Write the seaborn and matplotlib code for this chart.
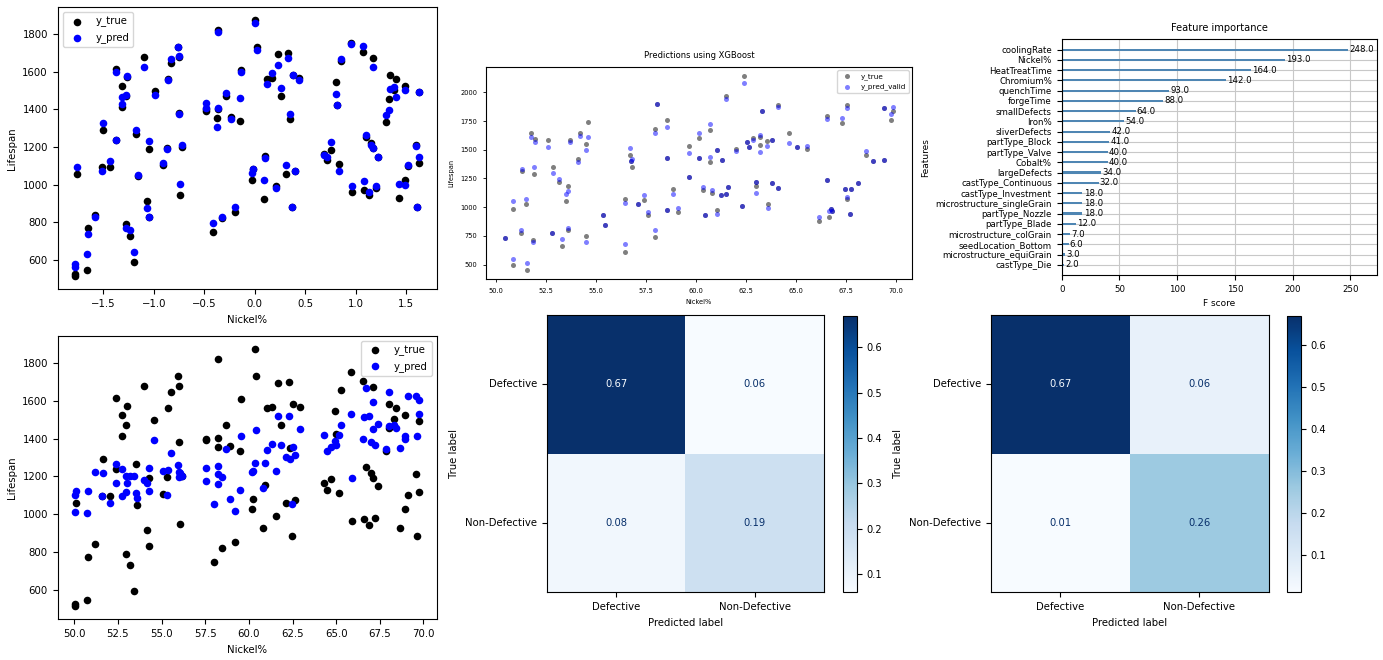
import numpy as np
import pandas as pd
import matplotlib
matplotlib.use("Agg")
import matplotlib.pyplot as plt
import seaborn as sns

# ---- data ----
# shared test set: raw Nickel%, standardised Nickel%, true lifespan
nickel = [50.04, 50.04, 50.11, 50.73, 50.76, 51.20, 51.58, 51.64, 52.06, 52.40,
          52.40, 52.75, 52.75, 52.98, 53.03, 52.98, 53.21, 53.40, 53.51, 53.59,
          53.97, 54.16, 54.27, 54.27, 54.58, 55.08, 55.31, 55.36, 55.53, 55.94,
          56.01, 56.01, 56.07, 56.16, 57.54, 57.56, 57.98, 58.24, 58.24, 58.21,
          58.45, 58.70, 58.93, 59.18, 59.47, 59.54, 60.17, 60.23, 60.34, 60.42,
          60.82, 60.90, 61.03, 61.32, 61.56, 61.68, 61.83, 62.10, 62.27, 62.37,
          62.46, 62.52, 62.65, 62.90, 64.31, 64.45, 64.68, 64.94, 65.00, 65.15,
          65.25, 65.84, 65.88, 66.55, 66.60, 66.68, 66.87, 66.98, 67.10, 67.10,
          67.25, 67.37, 67.84, 68.05, 68.03, 68.32, 68.42, 68.63, 68.93, 68.95,
          69.12, 69.58, 69.62, 69.75, 69.77]
nickel_scaled = [-1.78, -1.78, -1.76, -1.66, -1.65, -1.58, -1.51, -1.50, -1.43, -1.37,
                 -1.37, -1.31, -1.31, -1.27, -1.26, -1.27, -1.23, -1.20, -1.18, -1.16,
                 -1.10, -1.07, -1.05, -1.05, -0.99, -0.91, -0.87, -0.86, -0.83, -0.76,
                 -0.75, -0.75, -0.74, -0.72, -0.48, -0.48, -0.41, -0.36, -0.36, -0.37,
                 -0.32, -0.28, -0.24, -0.20, -0.15, -0.14, -0.03, -0.02, 0.00, 0.02,
                 0.09, 0.10, 0.12, 0.17, 0.21, 0.23, 0.26, 0.31, 0.33, 0.35,
                 0.37, 0.38, 0.40, 0.44, 0.69, 0.71, 0.75, 0.80, 0.81, 0.83,
                 0.85, 0.95, 0.96, 1.07, 1.08, 1.10, 1.13, 1.15, 1.17, 1.17,
                 1.20, 1.22, 1.30, 1.34, 1.33, 1.38, 1.40, 1.43, 1.49, 1.49,
                 1.52, 1.60, 1.61, 1.63, 1.63]
y_true = [526, 512, 1057, 545, 772, 841, 1096, 1292, 1096, 1612,
          1237, 1524, 1414, 1473, 1572, 789, 729, 591, 1267, 1048,
          1676, 915, 830, 1190, 1499, 1104, 1195, 1559, 1648, 1733,
          1680, 1382, 947, 1202, 1391, 1400, 749, 1823, 1404, 1354,
          821, 1469, 1361, 855, 1336, 1607, 1027, 1081, 1874, 1733,
          926, 1154, 1561, 1566, 991, 1692, 1469, 1057, 1697, 1350,
          883, 1580, 1073, 1568, 1163, 1129, 1186, 1543, 1423, 1110,
          1657, 1750, 963, 1706, 972, 1251, 943, 1220, 1193, 1673,
          982, 1149, 1335, 1581, 1455, 1503, 1563, 929, 1025, 1524,
          1101, 1211, 882, 1494, 1117]
# predictions of the model on scaled inputs (top left)
y_pred_scaled = [577, 560, 1096, 634, 740, 827, 1073, 1327, 1128, 1596,
                 1238, 1465, 1430, 1474, 1575, 772, 759, 640, 1291, 1052,
                 1624, 878, 828, 1231, 1476, 1114, 1188, 1557, 1667, 1731,
                 1681, 1376, 1004, 1209, 1433, 1406, 795, 1809, 1405, 1305,
                 827, 1486, 1351, 880, 1458, 1596, 1061, 1082, 1858, 1713,
                 1025, 1139, 1532, 1592, 984, 1637, 1511, 1103, 1672, 1373,
                 880, 1584, 1075, 1557, 1158, 1149, 1224, 1483, 1422, 1075,
                 1667, 1745, 993, 1734, 1021, 1266, 963, 1209, 1192, 1624,
                 995, 1146, 1371, 1508, 1398, 1518, 1468, 1004, 997, 1504,
                 1103, 1206, 883, 1491, 1149]
# predictions of the linear model on raw inputs (bottom left)
y_pred_raw = [1099, 1011, 1122, 1004, 1122, 1223, 1096, 1216, 1057, 1264,
              1166, 1237, 1096, 1202, 1166, 1117, 1202, 1202, 1113, 1087,
              1180, 1166, 1122, 1244, 1393, 1228, 1103, 1234, 1324, 1258,
              1195, 1223, 1216, 1202, 1173, 1244, 1053, 1255, 1159, 1210,
              1195, 1343, 1081, 1019, 1126, 1414, 1223, 1230, 1273, 1446,
              1138, 1269, 1340, 1370, 1230, 1517, 1368, 1304, 1517, 1294,
              1053, 1354, 1313, 1450, 1421, 1336, 1354, 1386, 1365, 1421,
              1474, 1531, 1191, 1396, 1512, 1666, 1517, 1379, 1595, 1450,
              1368, 1476, 1347, 1644, 1467, 1474, 1458, 1350, 1411, 1400,
              1627, 1623, 1411, 1602, 1531]

# XGBoost validation set
xgb_nickel = [50.45, 50.83, 50.83, 51.24, 51.28, 51.49, 51.54, 51.74, 51.83, 51.91,
              51.94, 52.60, 52.80, 52.85, 53.14, 53.30, 53.50, 53.60, 53.60, 53.70,
              54.10, 54.20, 54.48, 54.48, 54.61, 55.33, 55.43, 56.47, 56.47, 56.72,
              56.75, 56.80, 57.12, 57.39, 57.62, 57.97, 57.97, 58.08, 58.55, 58.58,
              58.58, 58.86, 59.11, 59.64, 59.68, 60.14, 60.14, 60.37, 60.46, 60.72,
              60.72, 60.82, 61.05, 61.05, 61.27, 61.30, 61.50, 61.50, 61.60, 62.02,
              62.33, 62.40, 62.56, 62.64, 62.85, 63.00, 63.00, 63.20, 63.20, 63.33,
              63.56, 63.63, 63.80, 63.80, 64.10, 64.10, 64.67, 65.05, 65.55, 66.18,
              66.55, 66.55, 66.65, 66.75, 66.80, 67.31, 67.49, 67.59, 67.59, 67.71,
              67.77, 68.12, 68.54, 68.87, 69.44, 69.44, 69.78, 69.87]
xgb_true = [734, 986, 500, 775, 1313, 1030, 456, 1650, 711, 1290,
            1597, 1586, 775, 1348, 1218, 659, 1058, 1186, 798, 1586,
            1418, 1644, 1551, 751, 1745, 934, 847, 1067, 607, 1458,
            1400, 1354, 1030, 1064, 928, 1681, 740, 1899, 1763, 1429,
            971, 1154, 957, 1531, 1267, 1600, 1424, 1146, 928, 1389,
            1676, 1122, 1502, 971, 1102, 1415, 1116, 1971, 1177, 1508,
            1009, 2139, 1571, 1528, 1600, 1183, 1218, 1542, 1610, 1835,
            1580, 1030, 1586, 1209, 1890, 1169, 1644, 1528, 1508, 876,
            1794, 1238, 914, 986, 966, 1731, 1160, 1893, 1073, 943,
            1160, 1212, 1450, 1400, 1864, 1412, 1760, 1835]
xgb_pred = [734, 1053, 552, 798, 1331, 1067, 517, 1615, 700, 1354,
            1571, 1525, 775, 1299, 1247, 720, 1116, 1140, 818, 1571,
            1395, 1618, 1502, 696, 1612, 934, 847, 1038, 682, 1516,
            1400, 1420, 1030, 1102, 957, 1650, 804, 1899, 1702, 1429,
            971, 1116, 995, 1473, 1267, 1647, 1424, 1174, 928, 1441,
            1725, 1151, 1502, 937, 1102, 1415, 1116, 1945, 1177, 1487,
            1009, 2078, 1571, 1528, 1586, 1119, 1218, 1481, 1630, 1835,
            1531, 995, 1586, 1209, 1870, 1169, 1563, 1528, 1534, 914,
            1771, 1238, 966, 986, 966, 1777, 1160, 1861, 1088, 943,
            1160, 1212, 1487, 1400, 1864, 1412, 1812, 1876]

# XGBoost feature importance (F score)
features = ['coolingRate', 'Nickel%', 'HeatTreatTime', 'Chromium%', 'quenchTime',
            'forgeTime', 'smallDefects', 'Iron%', 'sliverDefects', 'partType_Block',
            'partType_Valve', 'Cobalt%', 'largeDefects', 'castType_Continuous',
            'castType_Investment', 'microstructure_singleGrain', 'partType_Nozzle',
            'partType_Blade', 'microstructure_colGrain', 'seedLocation_Bottom',
            'microstructure_equiGrain', 'castType_Die']
f_scores = [248.0, 193.0, 164.0, 142.0, 93.0, 88.0, 64.0, 54.0, 42.0, 41.0,
            40.0, 40.0, 34.0, 32.0, 18.0, 18.0, 18.0, 12.0, 7.0, 6.0, 3.0, 2.0]

# normalised confusion matrices
class_labels = ['Defective', 'Non-Defective']
cm_first = [[0.67, 0.06], [0.08, 0.19]]
cm_second = [[0.67, 0.06], [0.01, 0.26]]

W, H = 1383, 660
fig = plt.figure(figsize=(W / 100, H / 100), dpi=100)


def rect(left, top, right, bottom):
    return [left / W, 1 - bottom / H, (right - left) / W, (bottom - top) / H]


# ---- top left: predictions on scaled Nickel% ----
ax1 = fig.add_axes(rect(57.7, 7.3, 436.7, 289.3))
sns.scatterplot(x=nickel_scaled, y=y_true, color='black', s=30, linewidth=0,
                label='y_true', ax=ax1)
sns.scatterplot(x=nickel_scaled, y=y_pred_scaled, color='blue', s=30, linewidth=0,
                label='y_pred', ax=ax1)
ax1.set_xlabel('Nickel%', fontsize=7.3)
ax1.set_ylabel('Lifespan', fontsize=7.3)
ax1.tick_params(labelsize=7.3)
ax1.legend(loc='upper left', fontsize=7.3)

# ---- bottom left: predictions on raw Nickel% ----
ax2 = fig.add_axes(rect(57.7, 336, 436.7, 619.3))
sns.scatterplot(x=nickel, y=y_true, color='black', s=30, linewidth=0,
                label='y_true', ax=ax2)
sns.scatterplot(x=nickel, y=y_pred_raw, color='blue', s=30, linewidth=0,
                label='y_pred', ax=ax2)
ax2.set_xlabel('Nickel%', fontsize=7.3)
ax2.set_ylabel('Lifespan', fontsize=7.3)
ax2.tick_params(labelsize=7.3)
ax2.legend(loc='upper right', fontsize=7.3)

# ---- top middle: XGBoost predictions ----
ax3 = fig.add_axes(rect(485.7, 66.7, 912.3, 279.3))
sns.scatterplot(x=xgb_nickel, y=xgb_true, color='black', alpha=0.5, s=13,
                linewidth=0, label='y_true', ax=ax3)
sns.scatterplot(x=xgb_nickel, y=xgb_pred, color='blue', alpha=0.5, s=13,
                linewidth=0, label='y_pred_valid', ax=ax3)
ax3.set_title('Predictions using XGBoost', fontsize=6)
ax3.set_xlabel('Nickel%', fontsize=4.8)
ax3.set_ylabel('Lifespan', fontsize=4.8)
ax3.tick_params(labelsize=4.8, length=2.5, width=0.6)
ax3.legend(loc='upper right', fontsize=5.2)

# ---- top right: feature importance ----
ax4 = fig.add_axes(rect(1061.7, 39.3, 1376.7, 275))
fi = pd.DataFrame({'feature': features, 'score': f_scores})
sns.barplot(data=fi, x='score', y='feature', orient='h', width=0.2,
            color='#4f86b3', saturation=1, ax=ax4)
for i, v in enumerate(f_scores):
    ax4.text(v + 1, i, str(v), va='center', fontsize=6.2)
ax4.set_xlim(0, max(f_scores) * 1.1)
ax4.set_ylim(len(features), -1)
ax4.grid(True, color='#c8c8c8', linewidth=0.8)
ax4.set_axisbelow(True)
ax4.set_title('Feature importance', fontsize=7.1)
ax4.set_xlabel('F score', fontsize=6.5)
ax4.set_ylabel('Features', fontsize=6.5)
ax4.tick_params(labelsize=6.2)


# ---- bottom: confusion matrices ----
def confusion(ax, cax, cm):
    sns.heatmap(np.array(cm), annot=True, fmt='.2f', cmap='Blues',
                xticklabels=class_labels, yticklabels=class_labels,
                annot_kws={'fontsize': 7.2}, ax=ax, cbar_ax=cax)
    vals = np.array(cm)
    thresh = (vals.max() + vals.min()) / 2
    cmap = plt.get_cmap('Blues')
    for t, v in zip(ax.texts, vals.flatten()):
        t.set_color(cmap(0.0) if v >= thresh else cmap(1.0))
    for s in ax.spines.values():
        s.set_visible(True)
        s.set_linewidth(0.8)
    ax.set_yticklabels(class_labels, rotation=0, va='center')
    ax.set_xticklabels(class_labels, rotation=0)
    ax.tick_params(labelsize=7.3, left=True, bottom=True, length=3.5)
    ax.set_xlabel('Predicted label', fontsize=7.3)
    ax.set_ylabel('True label', fontsize=7.3)
    cbar = ax.collections[0].colorbar
    cbar.outline.set_linewidth(0.8)
    cbar.outline.set_visible(True)
    cax.tick_params(labelsize=7.1)


ax5 = fig.add_axes(rect(546.7, 315, 824, 592.3))
cax5 = fig.add_axes(rect(842.7, 315.7, 856.7, 592.3))
confusion(ax5, cax5, cm_first)

ax6 = fig.add_axes(rect(990.7, 315, 1268.7, 592.3))
cax6 = fig.add_axes(rect(1287.3, 315.7, 1300.7, 592.3))
confusion(ax6, cax6, cm_second)

fig.savefig('out.png', dpi=100)
